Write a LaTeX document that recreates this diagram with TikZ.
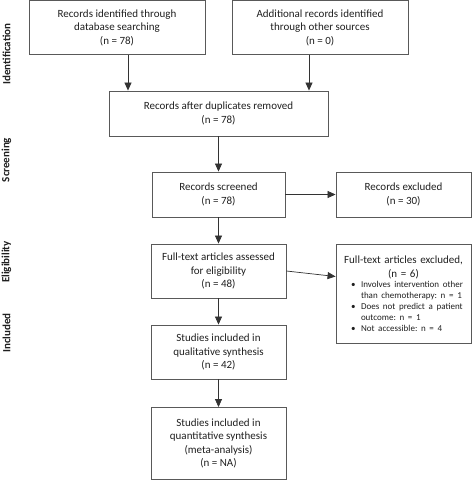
\documentclass[tikz,border=0pt]{standalone}
\usepackage{fontspec}
\setmainfont{Carlito}
\usetikzlibrary{arrows.meta}
\frenchspacing
\newcommand{\bitem}{\par\hangindent=22pt\hangafter=1\noindent\hspace*{12pt}\makebox[10pt][l]{\textbullet}}
\begin{document}
\begin{tikzpicture}[x=1pt,y=-1pt,
    box/.style={draw=black!65,line width=0.9pt,align=center,inner sep=2pt,text=black!88,
                font=\fontsize{11}{13.5}\selectfont},
    arr/.style={draw=black!80,line width=0.7pt,-{Triangle[width=7pt,length=8pt]}},
    phase/.style={rotate=90,text=black!88,font=\fontsize{11}{13}\selectfont\bfseries}]
    \useasboundingbox (0,0) rectangle (472,480);
    % phases
    \node[phase] (pid) at (6.5,54) {Identification};
    \node[phase] (pscr) at (6.5,160) {Screening};
    \node[phase] (pelig) at (6.5,262) {Eligibility};
    \node[phase] (pinc) at (6.5,333) {Included};
    % boxes
    \node[box,minimum width=176pt,minimum height=54pt] (ident) at (117,27.5) {Records identified through\\database searching\\(n = 78)};
    \node[box,minimum width=176pt,minimum height=54pt] (other) at (320,27.5) {Additional records identified\\through other sources\\(n = 0)};
    \node[box,minimum width=219pt,minimum height=45pt] (dupl) at (218.5,113.5) {Records after duplicates removed\\(n = 78)};
    \node[box,minimum width=133pt,minimum height=45pt] (scr) at (218.5,194.5) {Records screened\\(n = 78)};
    \node[box,minimum width=135pt,minimum height=45pt] (excl) at (403.5,194.5) {Records excluded\\(n = 30)};
    \node[box,minimum width=135pt,minimum height=54pt] (full) at (218.5,271) {Full-text articles assessed\\for eligibility\\(n = 48)};
    \node[box,text width=129pt,minimum height=99pt,inner sep=3pt] (fullexcl) at (403.5,293.5) {%
        \centering Full-text articles excluded,\\(n = 6)\par
        \fontsize{9}{10.8}\selectfont\raggedright
        \bitem Involves intervention other\newline than chemotherapy: n = 1
        \bitem Does not predict a patient\newline outcome: n = 1
        \bitem Not accessible: n = 4\par};
    \node[box,minimum width=135pt,minimum height=54pt] (qual) at (218.5,352) {Studies included in\\qualitative synthesis\\(n = 42)};
    \node[box,minimum width=135pt,minimum height=72pt] (quant) at (218.5,443.5) {Studies included in\\quantitative synthesis\\(meta-analysis)\\(n = NA)};
    % arrows
    \draw[arr] ([xshift=11pt]ident.south) -- ([xshift=11pt]ident.south |- dupl.north);
    \draw[arr] ([xshift=-11pt]other.south) -- ([xshift=-11pt]other.south |- dupl.north);
    \draw[arr] (dupl) -- (scr);
    \draw[arr] (scr) -- (excl);
    \draw[arr] (scr) -- (full);
    \draw[arr] (full.east) -- ([yshift=17pt]fullexcl.west);
    \draw[arr] (full) -- (qual);
    \draw[arr] (qual) -- (quant);
\end{tikzpicture}
\end{document}
